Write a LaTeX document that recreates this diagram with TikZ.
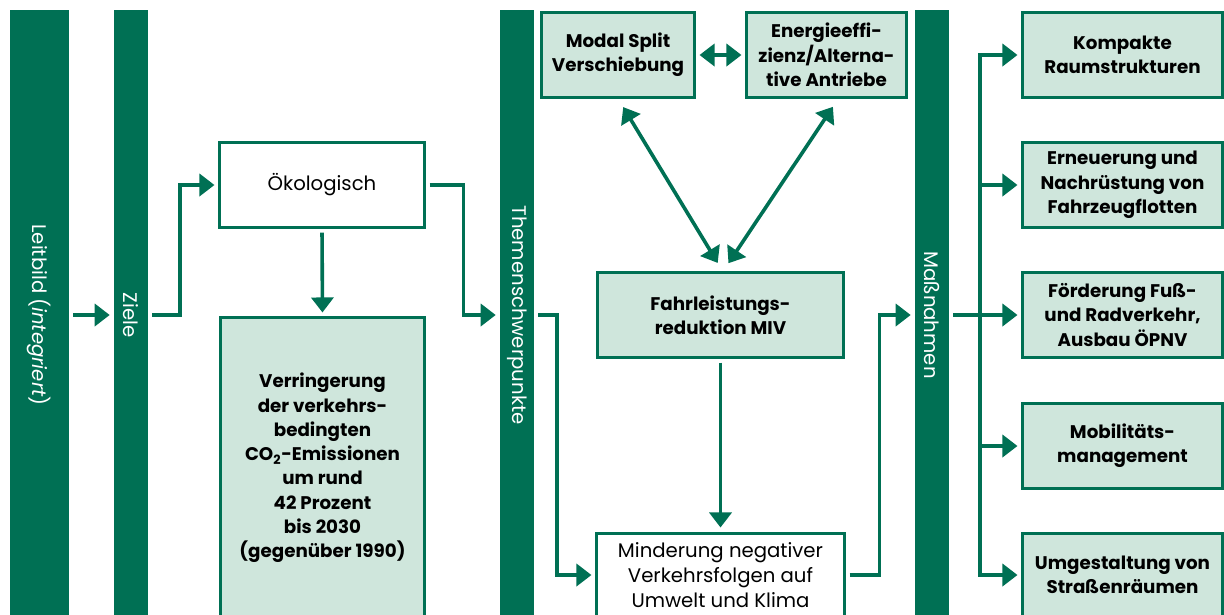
\documentclass[tikz,border=0pt]{standalone}
\usepackage{fontspec}
\setmainfont{Poppins}
\usepackage{xcolor}
\usepackage{tikz}
\usetikzlibrary{arrows.meta}

\definecolor{dgreen}{RGB}{0,112,84}
\definecolor{lgreen}{RGB}{207,230,220}

\begin{document}
\begin{tikzpicture}[x=0.025cm,y=-0.025cm,
    >={Triangle[length=0.375cm,width=0.55cm]},
    bar/.style={fill=dgreen,text=white,rotate=-90,inner sep=0pt,minimum width=15.25cm,minimum height=#1,font=\fontsize{14}{16}\selectfont},
    box/.style={draw=dgreen,line width=0.075cm,fill=white,align=center,inner sep=0pt,minimum width=#1,minimum height=2.1cm,font=\fontsize{14}{17.5}\selectfont},
    gbox/.style={box=#1,fill=lgreen,font=\fontsize{13}{17.3}\selectfont\bfseries},
    wire/.style={dgreen,line width=0.09cm,shorten <=0.1cm},
    link/.style={wire,->,shorten >=0.1cm},
    dlink/.style={wire,<->,shorten >=0.1cm}]
    \useasboundingbox (0,0) rectangle (1224,614);
    \node[bar=1.475cm] (leitbild) at (39.5,315) {Leitbild (\textit{integriert})};
    \node[bar=0.85cm] (ziele) at (131,315) {Ziele};
    \node[bar=0.85cm] (themen) at (517,315) {Themenschwerpunkte};
    \node[bar=0.85cm] (massn) at (932,315) {Maßnahmen};
    \node[box=5.1cm] (oeko) at (322,185) {Ökologisch};
    \node[gbox=5.075cm,minimum height=7.5cm] (verr) at (322.5,468) {Verringerung\\der verkehrs-\\bedingten\\CO\textsubscript{2}-Emissionen\\um rund\\42 Prozent\\bis 2030\\(gegenüber 1990)};
    \node[gbox=3.8cm] (modal) at (618,55) {Modal Split\\Verschiebung};
    \node[gbox=3.975cm] (energie) at (826.5,55) {Energieeffi-\\zienz/Alterna-\\tive Antriebe};
    \node[gbox=6.125cm] (fahr) at (720.5,315) {Fahrleistungs-\\reduktion MIV};
    \node[box=6.175cm] (minder) at (720.5,575) {Minderung negativer\\Verkehrsfolgen auf\\Umwelt und Klima};
    \foreach \n/\y/\txt in {kompakt/55/{Kompakte\\Raumstrukturen},erneu/185/{Erneuerung und\\Nachrüstung von\\Fahrzeugflotten},foerd/315/{Förderung Fuß-\\und Radverkehr,\\Ausbau ÖPNV},mobil/446/{Mobilitäts-\\management},umgest/575/{Umgestaltung von\\Straßenräumen}}
      \node[gbox=4.975cm] (\n) at (1122.5,\y) {\txt};
    \draw[link] (leitbild.north) -- (ziele.south);
    \draw[link] (ziele.north) -- ++(32,0) |- (oeko.west);
    \draw[link] (oeko.south) -- (verr.north);
    \draw[link] (oeko.east) -- ++(38,0) |- (themen.south);
    \draw[link] (themen.north) -- ++(23,0) |- (minder.west);
    \draw[dlink] (modal.east) -- (energie.west);
    \draw[dlink,shorten <=0.25cm,shorten >=0.25cm] (modal.south) -- ([xshift=0.06cm]fahr.north);
    \draw[dlink,shorten <=0.25cm,shorten >=0.25cm] ([xshift=0.3cm]energie.south) -- ([xshift=0.06cm]fahr.north);
    \draw[link] (fahr.south) -- (minder.north);
    \draw[link] (minder.east) -- ++(34,0) |- (massn.south);
    \draw[wire] (massn.north) -- ++(31,0) coordinate (split);
    \foreach \n in {kompakt,erneu,foerd,mobil,umgest}
      \draw[link,shorten <=0pt] (split) |- (\n.west);
  \end{tikzpicture}
\end{document}
